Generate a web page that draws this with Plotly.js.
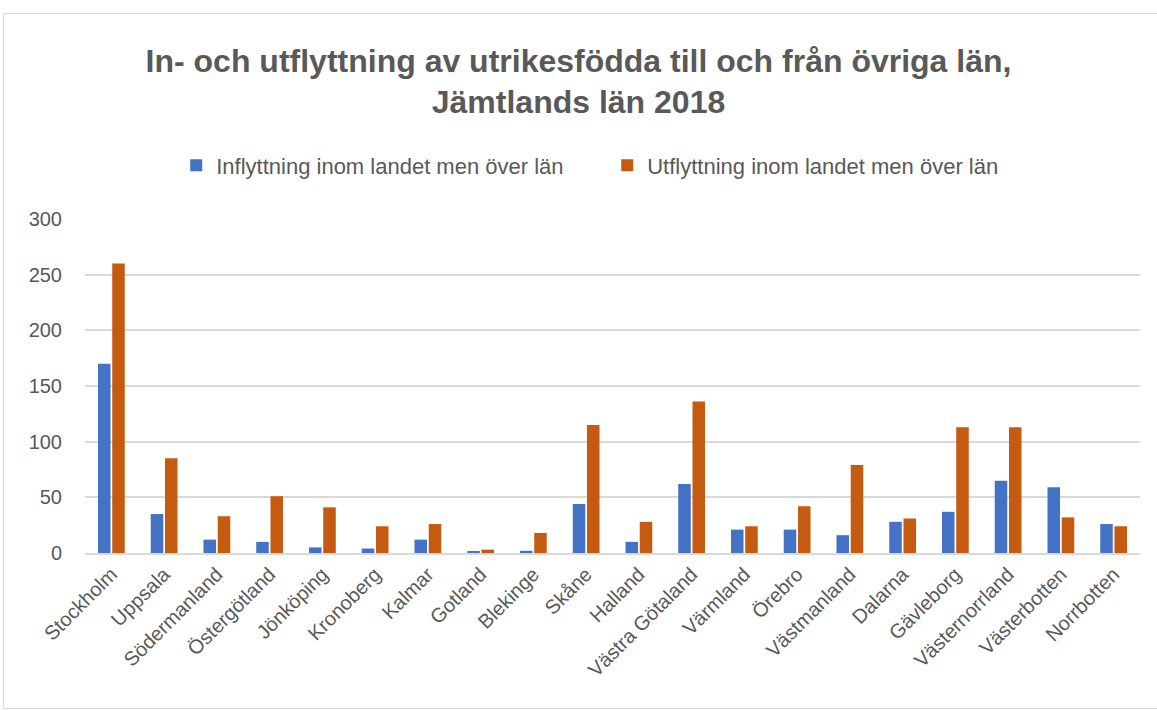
<!DOCTYPE html>
<html><head><meta charset="utf-8">
<script src="https://cdn.plot.ly/plotly-3.0.1.min.js"></script>
<style>body{margin:0;background:#fff;} #frame{position:absolute;left:3px;top:13px;width:1160px;height:694px;border:1px solid #d9d9d9;pointer-events:none;}</style>
</head><body>
<div id="chart" style="width:1157px;height:711px;"></div>
<div id="frame"></div>
<script>
const categories = ["Stockholm","Uppsala","Södermanland","Östergötland","Jönköping","Kronoberg","Kalmar","Gotland","Blekinge","Skåne","Halland","Västra Götaland","Värmland","Örebro","Västmanland","Dalarna","Gävleborg","Västernorrland","Västerbotten","Norrbotten"];
const inflyttning = [170,35,12,10,5,4,12,1,2,44,10,62,21,21,16,28,37,65,59,26];
const utflyttning = [260,85,33,51,41,24,26,3,18,115,28,136,24,42,79,31,113,113,32,24];
const seriesNames = ["Inflyttning inom landet men över län","Utflyttning inom landet men över län"];
const yTicks = [0,50,100,150,200,250,300];

const font = "Liberation Sans, Arial, sans-serif";
const data = [
  {type:"bar", x:categories, y:inflyttning, name:seriesNames[0], marker:{color:"#4472C4"}},
  {type:"bar", x:categories, y:utflyttning, name:seriesNames[1], marker:{color:"#C55A11"}}
];
const layout = {
  width:1157, height:711,
  margin:{l:85, r:17, t:219, b:158},
  paper_bgcolor:"#fff", plot_bgcolor:"#fff",
  font:{family:font, color:"#595959", size:19},
  title:{text:"<b>In- och utflyttning av utrikesfödda till och från övriga län,<br>Jämtlands län 2018</b>", x:0.5, xanchor:"center", y:0.899, yanchor:"middle", font:{family:font, size:32, color:"#595959"}},
  barmode:"group", bargap:0.46, bargroupgap:0.12,
  legend:{orientation:"h", x:0.495, xanchor:"center", y:1.16, yanchor:"middle", font:{size:22, color:"#595959"}, itemwidth:14, entrywidth:386, entrywidthmode:"pixels", traceorder:"normal"},
  xaxis:{tickangle:-45, tickfont:{size:20}, showline:true, linecolor:"#d9d9d9", linewidth:1.5, ticks:""},
  yaxis:{range:[0,300], tickvals:yTicks, tickfont:{size:20}, gridcolor:"#d9d9d9", gridwidth:1.5, zeroline:false, ticks:"", ticklabelstandoff:22}
};
Plotly.newPlot("chart", data, layout, {displayModeBar:false});
</script>
</body></html>
